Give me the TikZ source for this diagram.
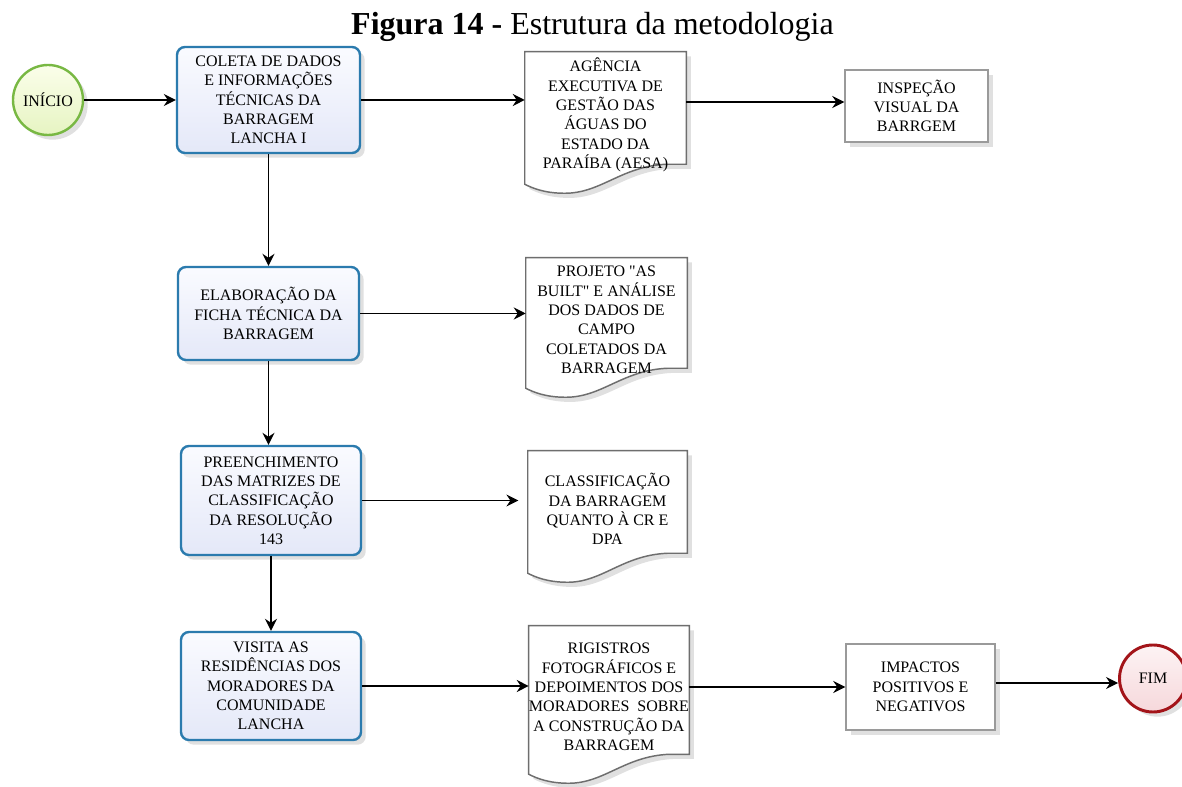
\documentclass[tikz,border=0pt]{standalone}
\usepackage{fontspec}
\setmainfont{Liberation Serif}[Ligatures=TeXOff]
\usetikzlibrary{arrows.meta,shadows,calc,backgrounds}
\definecolor{procblue}{HTML}{2B7BAE}
\definecolor{proctop}{HTML}{FAFBFF}
\definecolor{procbot}{HTML}{E4E8F8}
\definecolor{startgreen}{HTML}{78B843}
\definecolor{starttop}{HTML}{FBFEEA}
\definecolor{startbot}{HTML}{E6F4C2}
\definecolor{endred}{HTML}{A31419}
\definecolor{endtop}{HTML}{FDF3F4}
\definecolor{endbot}{HTML}{F6D8DB}
\definecolor{docgray}{HTML}{6E6E6E}
\definecolor{boxgray}{HTML}{9A9A9A}
\tikzset{
  base/.style={font=\fontsize{12}{14.5}\selectfont, align=center, inner sep=0pt, text=black},
  softshadow/.style={drop shadow={shadow xshift=3.5pt, shadow yshift=-3.5pt, fill=black, opacity=0.12}},
  procbox/.style={base, draw=procblue, line width=1.8pt, rounded corners=6pt, top color=proctop, bottom color=procbot, softshadow},
  plainbox/.style={base, draw=boxgray, line width=1.1pt, fill=white, softshadow},
  docnode/.style={base},
  docline/.style={draw=docgray, line width=1.1pt, fill=white, softshadow},
  startev/.style={base, circle, draw=startgreen, line width=1.8pt, top color=starttop, bottom color=startbot, minimum size=52.5pt, softshadow},
  endev/.style={base, circle, draw=endred, line width=2.2pt, top color=endtop, bottom color=endbot, minimum size=50.25pt, softshadow},
  flow/.style={-{Stealth[length=9pt,width=9pt,inset=3pt]}, line width=1.1pt, draw=black},
  captionstyle/.style={font=\fontsize{24}{28}\selectfont, inner sep=0pt, anchor=base}
}
\newcommand\docoutline[1]{%
  \path[docline] (#1.north west) -- (#1.north east) -- ($(#1.south east)+(0,-14)$)
    -- ($(#1.south east)+(-20,-14)$)
    .. controls ($(#1.south east)+(-65,-12)$) and ($(#1.south east)+(-85,15)$) .. ($(#1.south west)+(40,15)$)
    .. controls ($(#1.south west)+(20,15)$) and ($(#1.south west)+(8,10)$) .. ($(#1.south west)+(0,6)$)
    -- cycle;}
\begin{document}
\begin{tikzpicture}[x=0.75pt, y=-0.75pt]
\useasboundingbox (0,0) rectangle (1182,787);
\begin{scope}[on background layer]
  \fill[white] (0,0) rectangle (1182,787);
\end{scope}

\node[captionstyle] (cap) at (592.5,35) {\textbf{Figura 14 -} Estrutura da metodologia};

% start / end events
\node[startev] (inicio) at (48,100) {INÍCIO};
\node[endev] (fim) at (1153,678.5) {FIM};

% process boxes
\node[procbox, minimum width=137.25pt, minimum height=79.5pt] (coleta) at (268.5,100)
  {COLETA DE DADOS\\E INFORMAÇÕES\\TÉCNICAS DA\\BARRAGEM\\LANCHA I};
\node[procbox, minimum width=135.75pt, minimum height=69.75pt] (elab) at (268.5,313.5)
  {ELABORAÇÃO DA\\FICHA TÉCNICA DA\\BARRAGEM};
\node[procbox, minimum width=135pt, minimum height=81.75pt] (preench) at (271,500.5)
  {PREENCHIMENTO\\DAS MATRIZES DE\\CLASSIFICAÇÃO\\DA RESOLUÇÃO\\143};
\node[procbox, minimum width=135pt, minimum height=81pt] (visita) at (271,686)
  {VISITA AS\\RESIDÊNCIAS DOS\\MORADORES DA\\COMUNIDADE\\LANCHA};

% documents
\node[docnode, minimum width=120.75pt, minimum height=94.5pt] (agencia) at (605.5,115)
  {AGÊNCIA\\EXECUTIVA DE\\GESTÃO DAS\\ÁGUAS DO\\ESTADO DA\\PARAÍBA (AESA)};
\node[docnode, minimum width=120.75pt, minimum height=93pt] (projeto) at (606.5,320)
  {PROJETO "AS\\BUILT" E ANÁLISE\\DOS DADOS DE\\CAMPO\\COLETADOS DA\\BARRAGEM};
\node[docnode, minimum width=119.25pt, minimum height=87pt] (classif) at (607.5,509)
  {CLASSIFICAÇÃO\\DA BARRAGEM\\QUANTO À CR E\\DPA};
\node[docnode, minimum width=120pt, minimum height=106.5pt] (registros) at (609,697)
  {RIGISTROS\\FOTOGRÁFICOS E\\DEPOIMENTOS DOS\\MORADORES\ \ SOBRE\\A CONSTRUÇÃO DA\\BARRAGEM};

% plain boxes
\node[plainbox, minimum width=107.25pt, minimum height=54pt] (inspecao) at (916.5,106)
  {INSPEÇÃO\\VISUAL DA\\BARRGEM};
\node[plainbox, minimum width=111.75pt, minimum height=64.5pt] (impactos) at (920.5,687)
  {IMPACTOS\\POSITIVOS E\\NEGATIVOS};

\begin{scope}[on background layer]
  \docoutline{agencia}
  \docoutline{projeto}
  \docoutline{classif}
  \docoutline{registros}
\end{scope}

% connectors
\coordinate (insin) at ([yshift=3pt]inspecao.west);
\coordinate (fimrow) at ([yshift=3pt]impactos.east);
\draw[flow] (inicio.east) -- (inicio.east -| coleta.west);
\draw[flow] (coleta.east) -- (coleta.east -| agencia.west);
\draw[flow] (insin -| agencia.east) -- (insin);
\draw[flow] (coleta.south) -- (elab.north);
\draw[flow] (elab.east) -- (elab.east -| projeto.west);
\draw[flow] (elab.south) -- (elab.south |- preench.north);
\draw[flow, shorten >=7pt] (preench.east) -- (preench.east -| classif.west);
\draw[flow] (preench.south) -- (visita.north);
\draw[flow] (visita.east) -- (visita.east -| registros.west);
\draw[flow] (registros.east |- impactos.west) -- (impactos.west);
\draw[flow] (fimrow) -- (fimrow -| fim.west);
\end{tikzpicture}
\end{document}
